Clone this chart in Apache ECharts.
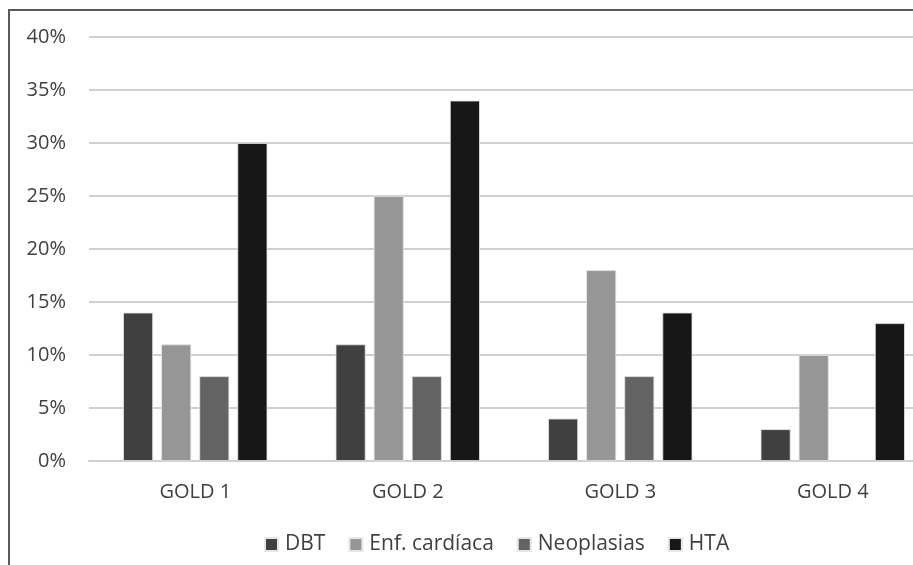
<!DOCTYPE html>
<html>
<head>
<meta charset="utf-8">
<style>
  html, body { margin: 0; padding: 0; background: #fff; overflow: hidden; }
  #frame { position: absolute; left: 0; top: 0; width: 913px; height: 565px; overflow: hidden; }
  #border { position: absolute; left: 8px; top: 9px; width: 1200px; height: 1200px;
            border-left: 2px solid #5a5a5a; border-top: 2px solid #5a5a5a; box-sizing: border-box; z-index: 2; pointer-events: none; }
  #chart { position: absolute; left: 0; top: 0; width: 940px; height: 565px; }
</style>
<script src="https://cdn.jsdelivr.net/npm/echarts@6/dist/echarts.min.js"></script>
</head>
<body>
<div id="frame">
  <div id="chart"></div>
  <div id="border"></div>
</div>
<script>
// Comorbidity prevalence by GOLD stage
const categories = ['GOLD 1', 'GOLD 2', 'GOLD 3', 'GOLD 4'];
const seriesNames = ['DBT', 'Enf. cardíaca', 'Neoplasias', 'HTA'];
const dbt = [14, 11, 4, 3];
const enfCardiaca = [11, 25, 18, 10];
const neoplasias = [8, 8, 8, null];
const hta = [30, 34, 14, 13];
const yTicks = [0, 5, 10, 15, 20, 25, 30, 35, 40];

const colors = ['#404040', '#969696', '#636363', '#171717'];
const values = [dbt, enfCardiaca, neoplasias, hta];
const font = '"Open Sans", "Noto Sans", sans-serif';

const chart = echarts.init(document.getElementById('chart'), null, { renderer: 'canvas' });
chart.setOption({
  animation: false,
  backgroundColor: '#fff',
  grid: { left: 89, right: 1, top: 37, bottom: 104, containLabel: false },
  legend: {
    data: seriesNames,
    bottom: 5,
    left: 259,
    itemWidth: 13,
    itemHeight: 13,
    itemGap: 23,
    icon: 'rect',
    textStyle: { fontFamily: font, fontSize: 21, color: '#404040', padding: [0, 0, 0, 2] }
  },
  xAxis: {
    type: 'category',
    data: categories,
    axisLine: { lineStyle: { color: '#d0d0d0', width: 2 } },
    axisTick: { show: false },
    axisLabel: { fontFamily: font, fontSize: 20, color: '#404040', margin: 21 }
  },
  yAxis: {
    type: 'value',
    min: yTicks[0],
    max: yTicks[yTicks.length - 1],
    interval: 5,
    axisLine: { show: false },
    axisTick: { show: false },
    splitLine: { lineStyle: { color: '#d0d0d0', width: 2 } },
    axisLabel: {
      fontFamily: font, fontSize: 20, color: '#404040', margin: 23,
      formatter: v => v + '%'
    }
  },
  series: seriesNames.map((name, i) => ({
    name,
    type: 'bar',
    data: values[i],
    barWidth: 30,
    barGap: '27%',
    itemStyle: { color: colors[i], borderColor: '#e6e6e6', borderWidth: 0.8 }
  }))
});
</script>
</body>
</html>
